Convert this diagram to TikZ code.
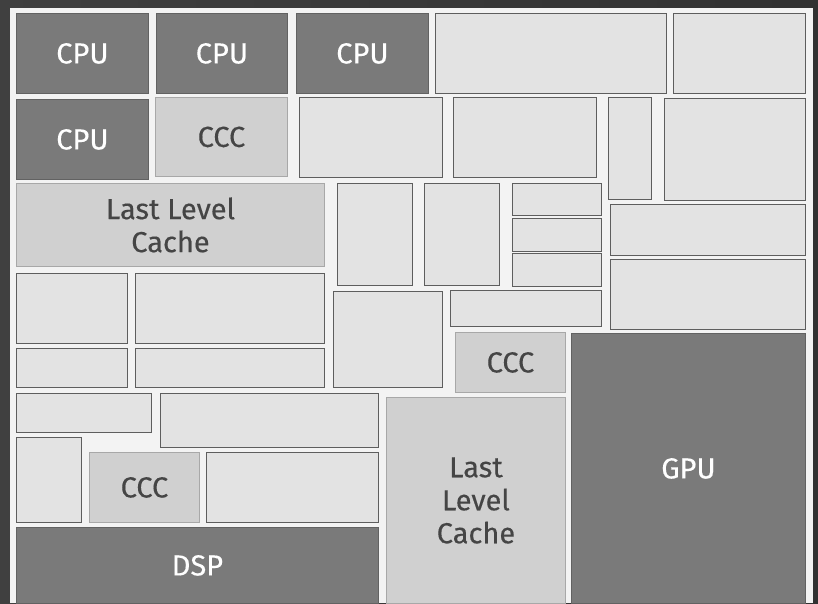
\documentclass[tikz,border=0pt]{standalone}
\usepackage{fontspec}
\setmainfont{Fira Sans}[FakeBold=0.3]
\definecolor{bgdark}{HTML}{474747}
\definecolor{panel}{HTML}{F3F3F3}
\definecolor{darkfill}{HTML}{7A7A7A}
\definecolor{darkedge}{HTML}{626262}
\definecolor{lightfill}{HTML}{E3E3E3}
\definecolor{lightedge}{HTML}{5E5E5E}
\definecolor{midfill}{HTML}{D0D0D0}
\definecolor{midedge}{HTML}{A8A8A8}
\definecolor{txtdark}{HTML}{454545}
\newcommand{\mkbox}[7]{\node[#2, anchor=north west, minimum width={(#5-#3)*1pt}, minimum height={(#6-#4)*1pt}] (#1) at (#3,#4) {#7};}
\tikzset{
  base/.style={inner sep=0pt, align=center, font=\fontsize{29}{33}\selectfont, line width=0.9pt},
  darkbox/.style={base, fill=darkfill, draw=darkedge, text=white},
  lightbox/.style={base, fill=lightfill, draw=lightedge},
  midbox/.style={base, fill=midfill, draw=midedge, text=txtdark},
}
\begin{document}
\begin{tikzpicture}[x=1pt,y=-1pt]
\useasboundingbox (0,0) rectangle (818,603);
\fill[left color=bgdark!90!black, right color=bgdark!70!black] (0,0) rectangle (818,603);
\fill[panel] (10,8) rectangle (813,603);
% row 1
\mkbox{cpu1}{darkbox}{16}{13}{148}{93}{CPU}
\mkbox{cpu2}{darkbox}{156}{13}{287}{93}{CPU}
\mkbox{cpu3}{darkbox}{296}{13}{428}{93}{CPU}
\mkbox{b1}{lightbox}{435}{13}{666}{93}{}
\mkbox{b2}{lightbox}{673}{13}{805}{93}{}
% row 2
\mkbox{cpu4}{darkbox}{16}{99}{148}{179}{CPU}
\mkbox{ccc1}{midbox}{155}{97}{287}{176}{CCC}
\mkbox{b3}{lightbox}{299}{97}{442}{177}{}
\mkbox{b4}{lightbox}{453}{97}{596}{177}{}
\mkbox{b5}{lightbox}{608}{97}{651}{199}{}
\mkbox{b6}{lightbox}{664}{98}{805}{200}{}
% left middle
\mkbox{llc1}{midbox}{16}{183}{324}{266}{Last Level\\Cache}
\mkbox{b7}{lightbox}{16}{273}{127}{343}{}
\mkbox{b8}{lightbox}{135}{273}{324}{343}{}
\mkbox{b9}{lightbox}{16}{348}{127}{387}{}
\mkbox{b10}{lightbox}{135}{348}{324}{387}{}
% center middle
\mkbox{b11}{lightbox}{337}{183}{412}{285}{}
\mkbox{b12}{lightbox}{424}{183}{499}{285}{}
\mkbox{b13}{lightbox}{512}{183}{601}{215}{}
\mkbox{b14}{lightbox}{512}{218}{601}{251}{}
\mkbox{b15}{lightbox}{512}{253}{601}{286}{}
\mkbox{b16}{lightbox}{333}{291}{442}{387}{}
\mkbox{b17}{lightbox}{450}{290}{601}{326}{}
\mkbox{ccc2}{midbox}{455}{332}{565}{392}{CCC}
% right middle
\mkbox{b18}{lightbox}{610}{204}{805}{255}{}
\mkbox{b19}{lightbox}{610}{259}{805}{329}{}
\mkbox{gpu}{darkbox}{571}{333}{805}{603}{GPU}
% bottom left
\mkbox{b20}{lightbox}{16}{393}{151}{432}{}
\mkbox{b21}{lightbox}{160}{393}{378}{447}{}
\mkbox{b22}{lightbox}{16}{437}{81}{522}{}
\mkbox{ccc3}{midbox}{89}{452}{199}{522}{CCC}
\mkbox{b23}{lightbox}{206}{452}{378}{522}{}
\mkbox{dsp}{darkbox}{16}{527}{378}{603}{DSP}
\mkbox{llc2}{midbox}{386}{397}{565}{603}{Last\\Level\\Cache}
\end{tikzpicture}
\end{document}
